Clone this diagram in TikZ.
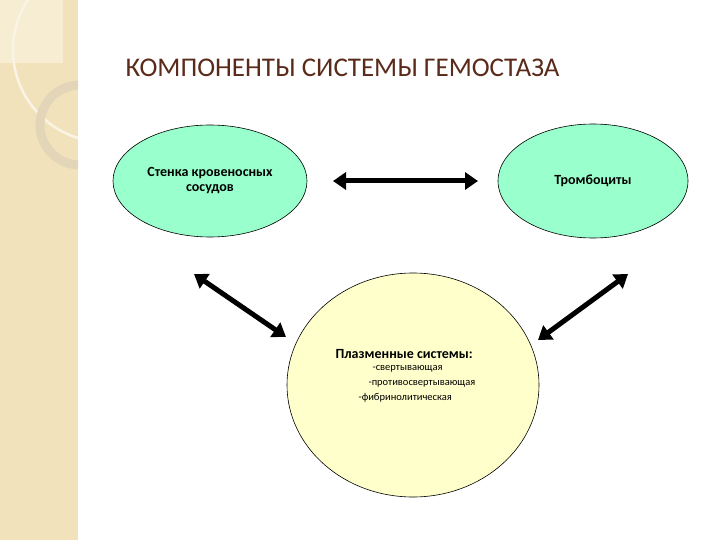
\documentclass[tikz,border=0pt]{standalone}
\usepackage{fontspec}
\setmainfont{Carlito}
\usetikzlibrary{arrows.meta}
\definecolor{strip}{HTML}{F2E2BC}
\definecolor{stripl}{HTML}{F7EDD3}
\definecolor{ring}{HTML}{E2D5B8}
\definecolor{titlec}{HTML}{5A2A1A}
\definecolor{greenf}{HTML}{99FFCC}
\definecolor{yellowf}{HTML}{FFFFCC}
\tikzset{
  blob/.style={draw=black, line width=0.6pt},
  lbl/.style={font=\fontsize{14}{16}\selectfont\bfseries, align=center},
  item/.style={font=\fontsize{10.5}{12}\selectfont, anchor=west},
  dbl/.style={line width=5pt, {Triangle[length=13pt,width=17pt]}-{Triangle[length=13pt,width=17pt]}}
}
\begin{document}
\begin{tikzpicture}[x=1pt,y=-1pt]
\useasboundingbox (0,0) rectangle (720,540);
\fill[white] (0,0) rectangle (720,540);
\fill[strip] (0,0) rectangle (78,540);
\fill[stripl] (0,0) rectangle (63,63);
\begin{scope}
\clip (0,0) rectangle (78,540);
\draw[white!60!strip, line width=2.5pt] (105,50) circle (92);
\draw[ring, line width=9pt] (80,125) circle (40);
\end{scope}
\node[text=titlec, font=\fontsize{27}{30}\selectfont, anchor=west] (t) at (122,68) {КОМПОНЕНТЫ СИСТЕМЫ ГЕМОСТАЗА};
\draw[blob, fill=greenf] (210,181) ellipse [x radius=97, y radius=56];
\node[lbl] (a) at (210,181) {Стенка кровеносных\\[-1pt]сосудов};
\draw[blob, fill=greenf] (593,181) ellipse [x radius=95, y radius=57];
\node[lbl] (b) at (593,181) {Тромбоциты};
\draw[blob, fill=yellowf] (413,385) ellipse [x radius=126, y radius=112];
\node[font=\fontsize{14}{16}\selectfont\bfseries, anchor=west] (c) at (332,354) {Плазменные системы:};
\node[item] (c1) at (369,369) {-свертывающая};
\node[item] (c2) at (365,384) {-противосвертывающая};
\node[item] (c3) at (355,398) {-фибринолитическая};
\coordinate (h1) at (333,181); \coordinate (h2) at (478,181);
\coordinate (l1) at (194,274); \coordinate (l2) at (286,337);
\coordinate (r1) at (628,274); \coordinate (r2) at (538,340);
\draw[dbl] (h1) -- (h2);
\draw[dbl] (l1) -- (l2);
\draw[dbl] (r1) -- (r2);
\end{tikzpicture}
\end{document}
